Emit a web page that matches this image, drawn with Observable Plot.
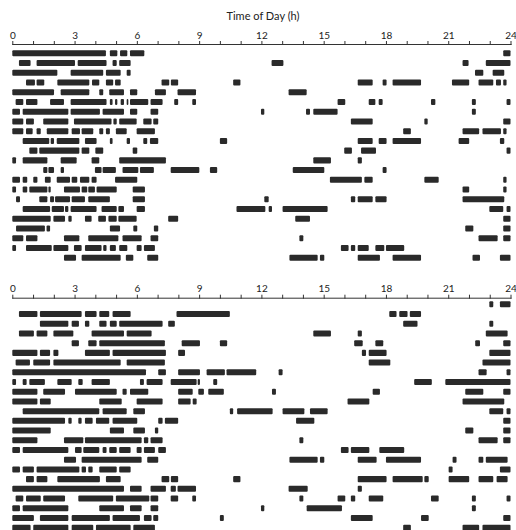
<!DOCTYPE html>
<html>
<head>
<meta charset="utf-8">
<script src="https://cdn.jsdelivr.net/npm/d3@7"></script>
<script src="https://cdn.jsdelivr.net/npm/@observablehq/plot@0.6"></script>
<style>
  html, body { margin: 0; padding: 0; background: #fff; overflow: hidden; }
  #wrap { position: relative; width: 516px; height: 530px; }
  #title { position: absolute; top: 8px; left: 0; width: 526px; text-align: center;
           font: 11px Lato, "Open Sans", sans-serif; line-height: 15px; color: #222; }
  .panel { position: absolute; left: 0; }
</style>
</head>
<body>
<div id="wrap">
  <div id="title">Time of Day (h)</div>
  <div id="p1" class="panel" style="top:0px"></div>
  <div id="p2" class="panel" style="top:254px"></div>
</div>
<script>
const hourTicks = d3.range(0, 25);
const tickLabels = [0, 3, 6, 9, 12, 15, 18, 21, 24];

// Top panel: activity bouts per day, [start hour, end hour]
const topBouts = [
  [[0,4.51],[4.70,5.06],[5.19,5.54],[5.67,6.36],[23.65,24]],
  [[0.32,0.88],[1.17,3.02],[3.15,4.54],[4.83,5.03],[5.15,5.70],[12.49,13.06],[21.69,21.98],[22.81,24]],
  [[0,2.17],[2.81,4.38],[4.51,5.22],[5.51,5.70],[22.29,22.69],[23.14,23.70]],
  [[0.66,1.09],[1.17,1.54],[2.17,3.71],[3.84,4.19],[4.51,4.86],[4.95,5.22],[7.19,7.56],[7.64,7.99],[10.64,10.99],[16.64,17.36],[17.84,18.03],[18.32,19.69],[21.18,22.01],[22.46,23.17],[23.30,23.54],[23.65,23.81]],
  [[0,2.01],[2.33,3.71],[4.19,4.38],[4.67,5.38],[5.67,6.02],[6.87,7.40],[7.96,8.85],[13.31,14.18]],
  [[0.16,0.53],[0.66,1.21],[1.82,2.49],[2.81,4.54],[4.70,4.83],[4.95,5.06],[5.22,5.38],[5.51,5.59],[5.67,6.55],[6.66,7.24],[7.80,7.99],[8.67,8.85],[15.67,16.04],[17.17,17.49],[17.65,17.84],[20.17,20.38],[22.14,22.33],[23.81,24]],
  [[0,0.37],[0.50,2.70],[2.81,4.22],[4.35,5.38],[5.67,6.02],[6.66,7.03],[11.98,12.14],[14.15,14.34],[14.50,15.67],[22.14,22.33]],
  [[0,0.53],[0.66,1.04],[1.49,2.70],[2.97,4.78],[4.87,5.03],[5.15,5.99],[6.31,6.71],[6.79,7.03],[16.31,17.36],[19.85,20.01],[23.65,24]],
  [[0,0.53],[0.66,0.98],[1.17,1.37],[1.66,2.70],[2.86,3.26],[3.34,3.90],[4.19,4.38],[4.51,4.70],[4.99,5.51],[5.99,6.87],[18.83,19.20],[21.69,22.49],[22.65,23.54],[23.65,23.81]],
  [[0.50,1.78],[1.85,2.01],[2.14,3.23],[3.50,4.06],[4.70,4.83],[5.51,5.67],[6.31,6.50],[6.63,7.03],[10.00,10.35],[16.64,17.36],[17.65,18.03],[18.32,19.69],[21.50,22.01],[23.49,23.70]],
  [[0.82,1.21],[1.30,3.23],[3.34,3.71],[4.00,4.38],[5.80,6.02],[15.99,16.36],[16.80,17.52],[23.81,24]],
  [[0,0.18],[0.50,1.69],[2.33,3.10],[3.82,4.19],[5.15,7.40],[14.50,15.35],[16.64,16.84]],
  [[1.49,1.69],[1.74,2.01],[2.33,2.49],[3.98,4.30],[4.35,4.99],[5.31,6.07],[6.15,6.82],[7.63,9.01],[9.52,9.87],[13.51,15.03],[17.84,18.03]],
  [[0,0.37],[0.50,0.72],[1.01,1.21],[1.57,1.85],[2.14,2.78],[2.86,3.13],[3.26,3.71],[3.82,4.06],[4.95,6.02],[15.30,16.84],[16.96,17.36],[19.85,20.54],[23.65,23.81]],
  [[0,0.18],[0.50,0.72],[0.82,1.69],[1.74,1.85],[2.49,3.26],[3.34,3.61],[3.66,3.98],[4.06,5.03],[5.80,6.39],[21.69,22.01],[23.65,23.81]],
  [[0.18,0.37],[1.30,1.69],[1.82,2.01],[2.06,2.78],[2.86,3.50],[3.66,4.70],[5.80,6.39],[12.14,12.35],[16.31,16.52],[16.64,17.36],[17.49,18.03],[21.69,23.70]],
  [[0.50,1.82],[1.90,2.49],[2.54,2.70],[2.81,4.06],[4.30,5.03],[5.11,5.38],[5.99,6.39],[10.80,12.19],[12.35,12.51],[13.02,15.19],[22.98,23.65],[23.81,24]],
  [[0,1.85],[1.98,2.54],[2.70,2.86],[3.50,3.82],[4.14,4.51],[4.63,5.03],[5.11,5.99],[7.51,7.99],[13.63,14.34],[23.65,24]],
  [[0.18,1.57],[1.65,1.82],[4.70,5.19],[5.83,6.02],[6.82,7.03],[21.82,22.21],[23.65,24]],
  [[0,0.53],[0.66,1.21],[2.49,3.23],[3.66,5.11],[5.31,6.23],[6.66,7.03],[13.83,14.02],[22.46,23.38],[23.65,24]],
  [[0,0.18],[0.66,1.90],[1.98,2.70],[2.97,3.34],[3.50,4.30],[4.38,4.54],[4.70,4.99],[5.15,5.54],[5.99,6.23],[6.34,6.87],[15.83,16.20],[16.31,16.52],[16.64,17.17],[17.49,17.92],[18.00,18.88]],
  [[2.49,3.07],[3.34,5.22],[5.47,5.83],[6.50,7.03],[13.35,14.71],[14.82,15.03],[16.64,17.71],[18.32,19.69],[22.17,22.53],[23.49,24]]
];

// Bottom panel
const bottomBouts = [
  [[22.98,23.17],[23.49,24]],
  [[0.32,1.21],[1.33,3.34],[3.50,4.06],[4.19,4.67],[4.83,5.70],[7.91,10.48],[18.16,18.51],[18.64,19.04],[19.15,19.69]],
  [[1.33,2.70],[2.86,3.21],[3.50,3.71],[4.19,4.54],[4.70,5.03],[5.15,7.24],[7.51,7.83],[18.83,19.52],[22.98,23.17]],
  [[0.32,1.04],[1.17,1.69],[1.98,2.94],[3.82,5.38],[5.51,6.71],[14.50,15.35],[16.64,16.84],[22.81,23.86]],
  [[2.86,3.21],[3.66,4.06],[4.19,7.35],[8.16,9.04],[10.00,10.35],[16.47,16.88],[17.49,17.87],[22.30,22.53],[23.65,24]],
  [[0,1.21],[1.33,1.82],[1.98,2.22],[3.50,4.70],[4.83,7.40],[7.99,8.32],[16.84,17.04],[17.17,18.03],[22.98,24]],
  [[0.16,0.85],[1.01,1.82],[1.98,5.22],[5.51,7.35],[17.17,18.21],[22.65,24]],
  [[0,6.44],[7.03,7.40],[7.99,9.04],[9.36,10.24],[10.32,11.75],[12.83,13.02],[22.46,22.85],[23.81,24]],
  [[0,0.18],[0.50,0.69],[0.82,1.57],[2.17,2.86],[3.18,3.39],[3.82,4.70],[6.15,6.34],[6.47,7.24],[7.63,8.88],[8.93,9.04],[9.68,9.87],[19.36,20.21],[20.86,24]],
  [[0,1.21],[1.49,2.54],[3.02,5.03],[5.31,5.51],[5.67,6.55],[7.99,8.69],[8.96,9.23],[9.44,10.19],[12.51,12.70],[17.36,17.71],[21.82,22.69],[23.65,24]],
  [[0,1.21],[1.33,1.85],[4.19,5.27],[5.99,7.24],[7.99,8.59],[8.69,8.88],[16.15,17.20],[21.69,23.70]],
  [[0.50,4.19],[4.35,5.51],[5.83,6.39],[10.48,10.64],[10.83,12.54],[13.02,14.07],[14.34,15.19],[22.98,23.65],[23.81,24]],
  [[0,2.54],[2.70,2.86],[3.18,3.34],[3.50,3.87],[4.03,4.67],[4.83,6.02],[7.03,7.24],[7.35,7.99],[13.67,14.55],[23.65,24]],
  [[0,1.85],[4.70,5.38],[5.83,6.39],[6.87,7.03],[21.82,22.21],[23.65,24]],
  [[0,1.21],[2.49,3.42],[3.50,6.23],[6.34,6.55],[6.66,7.24],[13.83,14.02],[22.46,23.38],[23.65,24]],
  [[0,0.37],[0.50,2.70],[3.02,3.34],[3.42,4.19],[4.35,4.54],[4.67,5.03],[5.15,5.70],[5.99,6.23],[6.34,6.87],[7.03,7.40],[15.83,16.20],[16.31,17.20],[17.68,18.88]],
  [[2.49,3.07],[3.34,6.23],[6.50,7.03],[13.35,14.71],[14.82,15.03],[16.64,17.55],[18.00,19.69],[21.21,21.40],[22.46,22.69],[22.81,23.86]],
  [[0,0.37],[0.50,1.04],[1.17,3.23],[3.34,3.55],[3.66,3.87],[4.19,5.03],[5.15,5.70],[21.02,21.21],[23.49,24]],
  [[0.66,1.04],[1.17,1.69],[2.17,4.22],[4.51,5.22],[7.19,7.56],[7.64,7.99],[10.64,10.99],[16.64,18.03],[18.32,19.77],[19.85,20.06],[21.02,22.01],[22.46,23.17],[23.33,23.86]],
  [[0,5.38],[5.67,6.23],[6.66,7.40],[7.63,7.88],[7.96,8.85],[13.31,14.23],[16.64,16.84]],
  [[0.16,0.53],[0.66,1.37],[1.49,2.54],[3.18,4.86],[4.99,6.60],[6.66,7.03],[7.63,7.99],[8.67,8.85],[13.83,14.02],[15.67,16.04],[16.31,16.52],[17.17,17.87],[20.17,20.54],[22.14,22.33],[23.81,24]],
  [[0,0.37],[0.50,2.70],[4.19,5.38],[5.67,6.23],[6.66,7.03],[11.98,12.14],[14.18,15.88],[22.14,22.33]],
  [[0,1.04],[1.33,2.70],[2.86,4.70],[4.83,6.15],[6.34,6.71],[6.79,7.03],[10.00,10.19],[16.31,17.36],[19.69,20.06],[23.65,24]],
  [[0,0.88],[1.01,2.70],[2.86,3.90],[4.03,5.70],[5.83,6.87],[18.83,19.20],[21.69,22.49],[22.65,24]]
];

function toRecords(rows) {
  return rows.flatMap((bouts, row) => bouts.map(([start, end]) => ({row, start, end})));
}

function panel(rows, opts) {
  const data = toRecords(rows);
  return Plot.plot({
    width: 516,
    height: opts.height,
    marginLeft: 12.3,
    marginRight: 5.5,
    marginTop: opts.baseline,
    marginBottom: 0,
    style: {fontFamily: "Lato, 'Open Sans', sans-serif", fontSize: "10px", color: "#222", background: "transparent"},
    x: {domain: [0, 24], axis: null},
    y: {domain: [0, rows.length - 1], range: [opts.first, opts.last], axis: null},
    marks: [
      Plot.frame({anchor: "top", stroke: "#333", strokeWidth: 1}),
      Plot.axisX({anchor: "top", ticks: hourTicks, tickSize: 4, tickPadding: 2,
                  tickFormat: d => tickLabels.includes(d) ? String(d) : "",
                  stroke: "#333", fill: "#222", fontSize: 10}),
      Plot.rect(data, {x1: "start", x2: "end",
                       y1: d => d.row - 0.31, y2: d => d.row + 0.31,
                       fill: "#2a2a2a", rx: 1})
    ]
  });
}

document.getElementById("p1").appendChild(panel(topBouts, {height: 265, baseline: 44, first: 53.3, last: 257.7}));
document.getElementById("p2").appendChild(panel(bottomBouts, {height: 290, baseline: 43.7, first: 50.3, last: 273.7}));
</script>
</body>
</html>
